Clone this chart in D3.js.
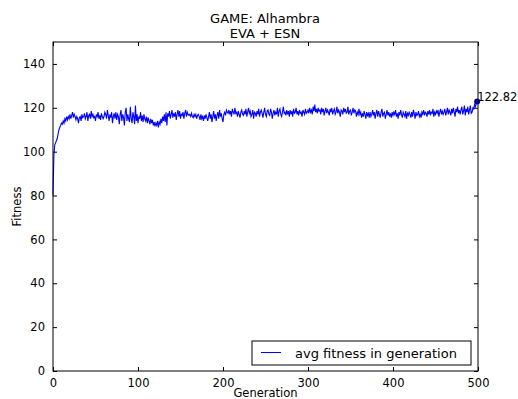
<!DOCTYPE html>
<html><head><meta charset="utf-8">
<script src="https://cdn.jsdelivr.net/npm/d3@7"></script>
<style>body{margin:0;background:#fff}svg{display:block}text{font-family:"DejaVu Sans",sans-serif}</style>
</head><body>
<script>
const titleLines = ["GAME: Alhambra", "EVA + ESN"];
const xLabel = "Generation";
const yLabel = "Fitness";
const legendLabel = "avg fitness in generation";
const xTicks = [0, 100, 200, 300, 400, 500];
const yTicks = [0, 20, 40, 60, 80, 100, 120, 140];
const finalValue = 122.82;
const fitness = [
80,98,103,104,105,106,108,110,111,112,113,112.5,114,113,115,114,116,114.5,116,115,
117,115,116.5,118,115.5,117,116,114.5,116,115,113,115.5,116,114,117,115.5,116,117.5,115,116,
118,114,116.5,117,115,118.5,116,117,115.5,116,114,117,116,118,115,116.5,114.5,117.5,116,115,
116,118,117,115,119,116.5,114,117,115.5,118,113,116,117.5,115,118,114.5,117,116,112.5,117,
119,114,117,115.5,112,118,120,114,117,115,113.5,120.5,115,113,118,116,112.5,121,114,117,
113,116,115,118,114,116.5,113.5,117,115,114,116,113,115.5,114,112.5,115,113,114.5,112,113.5,
111.5,113,112,114,111,113.5,112.5,115,113,116,114,117,113.5,118,112,117.5,116,118.5,115,117,
119,115.5,117.5,116,118,114.5,117,119,116,118.5,115,117,116.5,118,115,117.5,119,116,118,117,
116.5,117,116,117.5,116,115.5,117,116,117,115,116.5,117,116,114.5,117,115,116,114,116.5,115,
117,115.5,114,116,118,115,117,113.5,116,118.5,115,117,114,116.5,118,115,119,116,117.5,115,
113.5,117,118,116.5,119,118,117.5,119,117,118.5,116,119.5,118,117,120,117.5,118,116,118.5,117,
115.5,118,119,117,116.5,118.5,117,119.5,116,118,120,117.5,118.5,116,117,119,115,118,117.5,116,
118.5,117,119.5,116,118,119,117.5,115.5,118,120,117,116,118.5,119,117,116.5,119.5,118,115,117.5,
119,116.5,118,117,120,116,118.5,119.5,117,116,118,120.5,117.5,118,116.5,119,117,118.5,116,119,
117,118.5,116,119.5,117.5,118,120,117,118.5,116.5,119,117.5,118,116,119,118,117,119.5,117.5,118,
119,117.5,120,118,119,117,120.5,118.5,121.5,118,119.5,117.5,120,118.5,119,117,120,118,119.5,116.5,
118.5,120,117.5,119,118,116.5,119.5,118,120,117,118.5,119.5,117,118,120.5,117.5,119,118,116,119,
118.5,117,120,118,119.5,117.5,118,120.5,117,118.5,119,116.5,118,120,117.5,119,118.5,116,118,117,
119.5,117,118,115.5,117.5,116,118.5,117,115,118,116.5,117.5,115.5,118,116,117,119,116.5,118,115,
117.5,119,116,118.5,117,115.5,118,119.5,116,117.5,118,115,117,119,116.5,118,116,117.5,115.5,118,
116.5,118,117,119,116,117.5,115,118,116.5,119,117,115.5,118,117,116,118.5,115,117.5,116.5,118,
117,115.5,118,116,119,117.5,115,118,116.5,117,118.5,116,117,115.5,118,117,119,116.5,118,117.5,
116,118.5,117,119,116.5,118,117.5,119.5,116,118,117,118.5,117.5,119,116,118,119.5,117,118.5,117,
118,119.5,116.5,118,120,117,119,118,116.5,119.5,117.5,120,118,116,119.5,118,120.5,117.5,119,117,
119,120.5,117,118.5,121,116.5,119.5,118,120.5,117,119,121,117.5,118,120,119.5,121.5,120.5,122,finalValue
];

const W = 518, H = 399;
const m = {left: 53, right: 40, top: 42, bottom: 28};
const svg = d3.select("body").append("svg").attr("width", W).attr("height", H);
const x = d3.scaleLinear().domain([0, 500]).range([m.left, W - m.right]);
const y = d3.scaleLinear().domain([0, 150]).range([H - m.bottom, m.top]);

// line
const line = d3.line().x((d, i) => x(i)).y(d => y(d));
svg.append("path").datum(fitness).attr("d", line)
  .attr("fill", "none").attr("stroke", "#0000ff").attr("stroke-width", 1.1);

// frame
svg.append("rect").attr("x", x(0)).attr("y", y(150)).attr("width", x(500) - x(0)).attr("height", y(0) - y(150))
  .attr("fill", "none").attr("stroke", "#000").attr("stroke-width", 1);

// axes (inward ticks)
const gx = svg.append("g").attr("transform", `translate(0,${y(0)})`)
  .call(d3.axisBottom(x).tickValues(xTicks).tickSizeInner(-4).tickSizeOuter(0).tickPadding(8).tickFormat(d3.format("d")));
const gxt = svg.append("g").attr("transform", `translate(0,${y(150)})`)
  .call(d3.axisTop(x).tickValues(xTicks).tickSizeInner(-4).tickSizeOuter(0).tickFormat(""));
const gy = svg.append("g").attr("transform", `translate(${x(0)},0)`)
  .call(d3.axisLeft(y).tickValues(yTicks).tickSizeInner(-4).tickSizeOuter(0).tickPadding(8).tickFormat(d3.format("d")));
const gyr = svg.append("g").attr("transform", `translate(${x(500)},0)`)
  .call(d3.axisRight(y).tickValues(yTicks).tickSizeInner(-4).tickSizeOuter(0).tickFormat(""));
[gx, gxt, gy, gyr].forEach(g => {
  g.select(".domain").remove();
  g.selectAll("text").attr("font-size", 11.5).attr("fill", "#000").style("font-family", "DejaVu Sans");
  g.selectAll("line").attr("stroke", "#000");
});

// annotation
const last = fitness.length - 1;
svg.append("circle").attr("cx", x(last)).attr("cy", y(finalValue)).attr("r", 3).attr("fill", "#000080");
svg.append("text").attr("x", x(last) + 0).attr("y", y(finalValue) - 1)
  .attr("font-size", 11.5).text(finalValue.toFixed(2));

// title
svg.append("text").attr("x", 265).attr("y", 23).attr("text-anchor", "middle").attr("font-size", 13).text(titleLines[0]);
svg.append("text").attr("x", 265).attr("y", 38).attr("text-anchor", "middle").attr("font-size", 13).text(titleLines[1]);

// axis labels
svg.append("text").attr("x", (x(0) + x(500)) / 2).attr("y", 397).attr("text-anchor", "middle").attr("font-size", 11.5).text(xLabel);
svg.append("text").attr("transform", `translate(21,${(y(0) + y(150)) / 2}) rotate(-90)`).attr("text-anchor", "middle").attr("font-size", 11.5).text(yLabel);

// legend
const lg = svg.append("g");
lg.append("rect").attr("x", 252).attr("y", 341).attr("width", 219).attr("height", 24)
  .attr("fill", "#fff").attr("stroke", "#000").attr("stroke-width", 1);
lg.append("line").attr("x1", 261).attr("x2", 281).attr("y1", 352.5).attr("y2", 352.5).attr("stroke", "#0000ff").attr("stroke-width", 1);
lg.append("text").attr("x", 295).attr("y", 357.5).attr("font-size", 13).text(legendLabel);
</script>
</body></html>
